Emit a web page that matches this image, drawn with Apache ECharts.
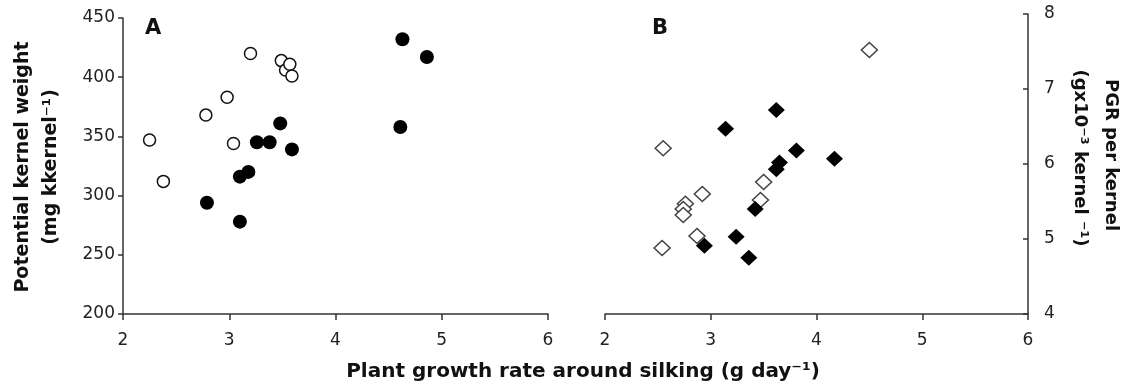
<!DOCTYPE html>
<html>
<head>
<meta charset="utf-8">
<script src="https://cdn.jsdelivr.net/npm/echarts@6/dist/echarts.min.js"></script>
<style>
  html, body { margin: 0; padding: 0; background: #fff; }
  #chart { width: 1126px; height: 389px; }
</style>
</head>
<body>
<div id="chart"></div>
<script>
// panel A: potential kernel weight vs plant growth rate
const openA_x = [2.25, 2.38, 2.78, 2.98, 3.04, 3.20, 3.49, 3.53, 3.57, 3.59];
const openA_y = [347, 312, 368, 383, 344, 420, 414, 406, 411, 401];
const fillA_x = [2.79, 3.10, 3.10, 3.18, 3.26, 3.38, 3.48, 3.59, 4.61, 4.63, 4.86];
const fillA_y = [294, 278, 316, 320, 345, 345, 361, 339, 358, 432, 417];

// panel B: PGR per kernel vs plant growth rate
const openB_x = [2.55, 2.54, 2.76, 2.74, 2.74, 2.92, 2.87, 3.50, 3.47, 4.50];
const openB_y = [6.21, 4.88, 5.47, 5.40, 5.32, 5.60, 5.04, 5.76, 5.52, 7.52];
const fillB_x = [3.14, 3.62, 3.81, 3.65, 3.62, 4.17, 3.42, 3.24, 2.94, 3.36];
const fillB_y = [6.47, 6.72, 6.18, 6.02, 5.93, 6.07, 5.40, 5.03, 4.91, 4.75];

const xTicks = [2, 3, 4, 5, 6];
const yTicksA = [200, 250, 300, 350, 400, 450];
const yTicksB = [4, 5, 6, 7, 8];

const zip = (xs, ys) => xs.map((x, i) => [x, ys[i]]);

const FONT = 'DejaVu Sans';
const axisColor = '#333';

function xAxisCfg(gridIndex) {
    return {
        type: 'value',
        gridIndex: gridIndex,
        min: xTicks[0],
        max: xTicks[xTicks.length - 1],
        interval: 1,
        axisLine: { show: true, onZero: false, lineStyle: { color: axisColor, width: 1.5 } },
        axisTick: { show: true, length: 6, lineStyle: { color: axisColor, width: 1.5 } },
        axisLabel: { margin: 18, color: '#222', fontFamily: FONT, fontSize: 17 },
        splitLine: { show: false }
    };
}

const chart = echarts.init(document.getElementById('chart'));

const option = {
    backgroundColor: '#fff',
    animation: false,
    grid: [
        { left: 123, top: 18, width: 425, height: 296 },
        { left: 605, top: 14, width: 423, height: 300 }
    ],
    xAxis: [xAxisCfg(0), xAxisCfg(1)],
    yAxis: [
        {
            type: 'value',
            gridIndex: 0,
            min: yTicksA[0],
            max: yTicksA[yTicksA.length - 1],
            interval: 50,
            axisLine: { show: true, lineStyle: { color: axisColor, width: 1.5 } },
            axisTick: { show: true, length: 5, lineStyle: { color: axisColor, width: 1.5 } },
            axisLabel: { margin: 8, color: '#222', fontFamily: FONT, fontSize: 17 },
            splitLine: { show: false }
        },
        {
            type: 'value',
            gridIndex: 1,
            position: 'right',
            min: yTicksB[0],
            max: yTicksB[yTicksB.length - 1],
            interval: 1,
            axisLine: { show: true, lineStyle: { color: axisColor, width: 1.5 } },
            axisTick: { show: true, inside: true, length: 5, lineStyle: { color: axisColor, width: 1.5 } },
            axisLabel: { margin: 16, color: '#222', fontFamily: FONT, fontSize: 17 },
            splitLine: { show: false }
        }
    ],
    graphic: [
        { type: 'text', x: 145, y: 18, style: { text: 'A', font: 'bold 21px "DejaVu Sans"', fill: '#111' } },
        { type: 'text', x: 652, y: 18, style: { text: 'B', font: 'bold 21px "DejaVu Sans"', fill: '#111' } },
        {
            type: 'text', x: 23, y: 167, rotation: Math.PI / 2,
            style: { text: 'Potential kernel weight', font: 'bold 19px "DejaVu Sans"', fill: '#111', align: 'center', verticalAlign: 'middle' }
        },
        {
            type: 'text', x: 51, y: 167, rotation: Math.PI / 2,
            style: { text: '(mg kkernel⁻¹)', font: 'bold 19px "DejaVu Sans"', fill: '#111', align: 'center', verticalAlign: 'middle' }
        },
        {
            type: 'text', x: 1111, y: 155, rotation: -Math.PI / 2,
            style: { text: 'PGR per kernel', font: 'bold 18px "DejaVu Sans"', fill: '#111', align: 'center', verticalAlign: 'middle' }
        },
        {
            type: 'text', x: 1080, y: 158, rotation: -Math.PI / 2,
            style: { text: '(gx10⁻³ kernel ⁻¹)', font: 'bold 18px "DejaVu Sans"', fill: '#111', align: 'center', verticalAlign: 'middle' }
        },
        {
            type: 'text', x: 583, y: 372,
            style: { text: 'Plant growth rate around silking (g day⁻¹)', font: 'bold 20px "DejaVu Sans"', fill: '#111', align: 'center', verticalAlign: 'middle' }
        }
    ],
    series: [
        {
            name: 'A open', type: 'scatter', xAxisIndex: 0, yAxisIndex: 0,
            symbol: 'circle', symbolSize: 12,
            itemStyle: { color: '#fff', borderColor: '#111', borderWidth: 1.5, opacity: 1 },
            data: zip(openA_x, openA_y)
        },
        {
            name: 'A filled', type: 'scatter', xAxisIndex: 0, yAxisIndex: 0,
            symbol: 'circle', symbolSize: 14,
            itemStyle: { color: '#000', opacity: 1 },
            data: zip(fillA_x, fillA_y)
        },
        {
            name: 'B open', type: 'scatter', xAxisIndex: 1, yAxisIndex: 1,
            symbol: 'diamond', symbolSize: [16, 15],
            itemStyle: { color: '#fff', borderColor: '#444', borderWidth: 1.5, opacity: 1 },
            data: zip(openB_x, openB_y)
        },
        {
            name: 'B filled', type: 'scatter', xAxisIndex: 1, yAxisIndex: 1,
            symbol: 'diamond', symbolSize: [17, 16],
            itemStyle: { color: '#000', opacity: 1 },
            data: zip(fillB_x, fillB_y)
        }
    ]
};

chart.setOption(option);
</script>
</body>
</html>
